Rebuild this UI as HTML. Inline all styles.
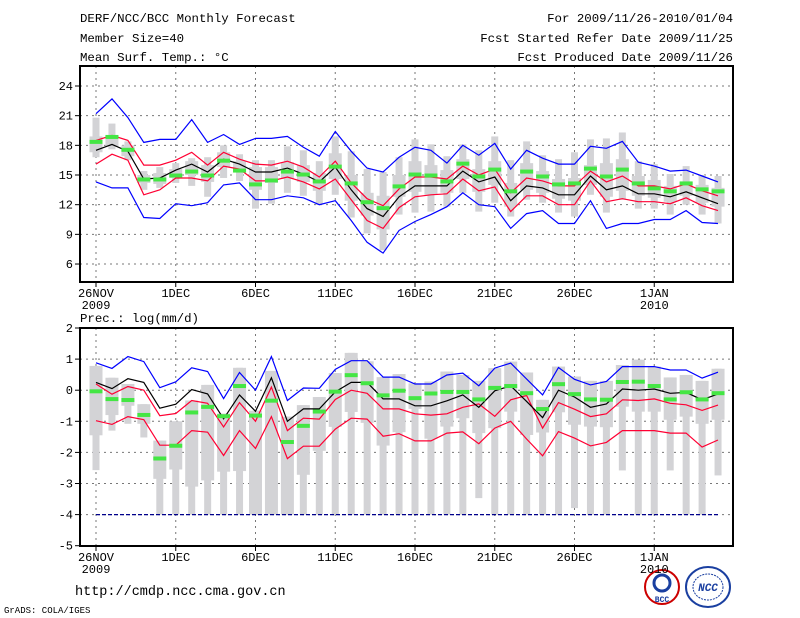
<!DOCTYPE html>
<html><head><meta charset="utf-8"><style>
html,body{margin:0;padding:0;background:#fff;}
svg{display:block;font-family:"Liberation Mono","DejaVu Sans Mono",monospace;}
</style></head><body>
<svg id="c" width="800" height="618" viewBox="0 0 800 618" xmlns="http://www.w3.org/2000/svg">
<g font-size="12.4" fill="#000">
<text x="80" y="22">DERF/NCC/BCC Monthly Forecast</text>
<text x="80" y="42">Member Size=40</text>
<text x="80" y="61">Mean Surf. Temp.: °C</text>
<text x="733" y="22" text-anchor="end">For 2009/11/26-2010/01/04</text>
<text x="733" y="42" text-anchor="end">Fcst Started Refer Date 2009/11/25</text>
<text x="733" y="61" text-anchor="end">Fcst Produced Date 2009/11/26</text>
<text x="80" y="322">Prec.: log(mm/d)</text>
<text x="75" y="595" font-size="13.5">http://cmdp.ncc.cma.gov.cn</text>
<text x="4" y="613" font-size="9">GrADS: COLA/IGES</text>
</g>
<g>
<circle cx="662" cy="587" r="17" fill="#fff" stroke="#c00" stroke-width="2"/>
<circle cx="662" cy="583" r="8" fill="none" stroke="#1a3fa0" stroke-width="3"/>
<text x="662" y="602" font-size="8" text-anchor="middle" fill="#1a3fa0" font-weight="bold">BCC</text>
</g>
<g>
<ellipse cx="708" cy="587" rx="22" ry="20" fill="#fff" stroke="#1a3fa0" stroke-width="2"/>
<ellipse cx="708" cy="587" rx="15" ry="13" fill="none" stroke="#1a3fa0" stroke-width="1" stroke-dasharray="2,1"/>
<text x="708" y="591" font-size="11" text-anchor="middle" fill="#1a3fa0" font-style="italic" font-weight="bold">NCC</text>
</g>
<g id="plots"></g>
</svg>
<script>
// ---- temperature panel data ----
const tMean=[17.5,18.1,17.4,14.6,14.7,15.5,16.1,15.3,16.6,16.1,15.3,15.3,15.7,15.1,14.3,15.8,13.5,11.6,10.8,12.8,13.9,13.9,13.9,15.4,14.3,14.8,12.4,13.9,13.7,13.0,13.0,14.9,13.5,13.9,13.1,13.1,12.8,13.3,12.7,12.1];
const tRedHi=[18.5,19.0,18.5,16.0,16.0,16.5,17.3,16.0,17.3,16.6,16.1,16.0,16.4,15.8,14.8,16.4,14.2,12.6,11.9,13.6,14.8,14.8,14.6,15.9,15.0,15.6,13.2,14.7,14.4,13.9,13.9,15.4,14.3,14.9,13.9,13.9,13.6,14.1,13.4,12.9];
const tRedLo=[16.1,17.1,16.5,13.0,13.5,14.7,14.7,14.4,15.9,15.6,14.4,14.4,14.8,14.3,13.6,14.6,12.5,10.4,9.6,11.7,12.8,13.0,13.1,14.6,13.4,13.8,11.3,12.9,12.9,12.0,12.0,14.4,12.3,12.6,12.3,12.3,12.1,12.7,11.9,11.4];
const tBlueHi=[21.2,22.7,20.8,18.3,18.6,18.6,20.6,18.3,19.1,18.1,18.7,18.7,18.9,17.8,16.9,19.4,17.4,15.7,15.3,16.8,17.8,17.5,16.2,18.0,17.0,18.2,15.6,17.5,16.7,16.1,16.1,17.9,17.7,18.4,16.3,15.9,15.4,15.5,14.9,14.3];
const tBlueLo=[14.3,13.7,13.7,10.7,10.6,12.1,11.9,12.2,14.0,14.2,12.5,12.5,12.9,12.7,12.0,12.4,10.4,8.2,7.1,9.4,10.3,11.0,11.8,13.2,12.0,11.8,9.6,11.1,11.4,10.1,10.1,12.4,9.6,10.1,10.1,10.5,10.5,11.4,10.2,10.1];
const tObs=[18.4,18.9,17.6,14.6,14.6,15.0,15.4,15.0,16.5,15.5,14.1,14.5,15.4,15.1,14.4,15.9,14.2,12.3,11.7,13.9,15.1,15.0,14.4,16.2,14.9,15.6,13.4,15.4,14.9,14.1,14.2,15.7,14.9,15.6,14.2,13.7,13.4,14.2,13.6,13.4];
const tMax=[20.8,20.2,18.4,15.4,15.8,16.2,16.7,16.8,18.0,17.1,16.5,16.5,17.9,17.5,16.4,18.9,17.4,15.6,15.3,16.8,18.6,18.1,16.9,18.1,17.5,18.9,16.5,18.4,17.0,16.6,17.3,18.6,18.7,19.3,16.4,16.1,15.1,15.9,15.0,14.9];
const tQ3=[18.9,19.0,18.0,15.0,15.2,15.6,16.4,16.0,17.3,16.4,15.8,15.8,16.3,16.0,15.2,17.2,15.0,13.2,12.9,15.0,16.4,16.0,15.5,16.6,15.6,16.4,14.2,16.2,15.4,14.6,14.7,16.0,16.2,16.6,14.9,14.5,13.9,14.3,14.0,13.7];
const tQ1=[17.3,17.9,16.9,14.2,14.1,14.7,15.0,14.3,15.8,15.3,13.5,14.2,14.6,14.3,13.4,14.6,12.4,10.9,9.5,12.8,13.3,13.0,13.2,14.6,13.3,14.0,11.8,13.5,13.2,12.6,12.4,14.0,12.8,13.4,12.9,12.7,12.3,12.9,12.2,11.8];
const tMin=[16.8,17.6,16.5,13.5,13.7,14.2,13.9,12.8,14.7,14.4,11.6,12.1,13.2,12.9,12.0,13.0,10.7,9.1,7.4,11.0,11.2,11.3,11.8,13.2,11.3,12.2,10.8,12.5,12.2,11.2,10.8,13.0,11.2,12.5,11.6,11.6,11.0,12.0,11.0,10.1];
const tTicks=[6,9,12,15,18,21,24];
// ---- precipitation panel data ----
const pMean=[0.25,0.05,0.37,0.25,-0.58,-0.45,0.02,-0.12,-0.92,-0.15,-0.68,0.4,-1.0,-0.6,-0.6,-0.05,0.25,0.25,-0.28,-0.28,-0.5,-0.5,-0.34,-0.15,-0.55,-0.02,0.14,-0.36,-0.88,0.0,-0.22,-0.55,-0.44,0.04,0.0,0.04,-0.1,-0.07,-0.31,-0.12];
const pRedHi=[0.2,-0.13,0.12,0.0,-0.82,-0.75,-0.33,-0.42,-1.18,-0.4,-1.0,0.1,-1.3,-0.9,-0.93,-0.3,0.0,-0.1,-0.6,-0.6,-0.76,-0.8,-0.76,-0.55,-0.44,-0.84,-0.31,-0.17,-1.22,-0.4,-0.61,-0.85,-0.76,-0.31,-0.33,-0.28,-0.42,-0.47,-0.65,-0.48];
const pRedLo=[-0.98,-1.1,-0.85,-0.95,-1.77,-1.77,-1.3,-1.35,-2.1,-1.3,-1.87,-0.85,-2.2,-1.8,-1.8,-1.25,-0.9,-0.93,-1.48,-1.4,-1.63,-1.63,-1.38,-1.34,-1.72,-1.22,-1.0,-1.57,-2.11,-1.33,-1.54,-1.79,-1.68,-1.3,-1.3,-1.3,-1.38,-1.38,-1.83,-1.6];
const pBlueHi=[0.88,0.7,1.08,0.92,0.08,0.27,0.72,0.6,-0.27,0.57,0.0,1.08,-0.33,0.07,0.06,0.67,0.95,0.95,0.42,0.42,0.2,0.2,0.49,0.55,0.14,0.71,0.87,0.36,-0.15,0.73,0.35,0.17,0.28,0.76,0.76,0.76,0.65,0.65,0.39,0.58];
const pBlueLo=[-4,-4,-4,-4,-4,-4,-4,-4,-4,-4,-4,-4,-4,-4,-4,-4,-4,-4,-4,-4,-4,-4,-4,-4,-4,-4,-4,-4,-4,-4,-4,-4,-4,-4,-4,-4,-4,-4,-4,-4];
const pObs=[-0.02,-0.27,-0.3,-0.78,-2.18,-1.77,-0.7,-0.52,-0.82,0.15,-0.8,-0.32,-1.65,-1.13,-0.67,-0.03,0.5,0.24,-0.15,0.0,-0.24,-0.09,-0.04,-0.04,-0.28,0.09,0.15,-0.08,-0.59,0.21,-0.11,-0.28,-0.29,0.28,0.29,0.15,-0.28,-0.05,-0.28,-0.08];
const pMax=[0.78,0.4,0.2,-0.45,-1.62,-1.0,-0.33,0.17,-0.75,0.72,-0.66,0.62,-0.85,-0.48,-0.22,0.55,1.2,0.93,0.42,0.52,0.22,0.28,0.6,0.49,0.3,0.71,0.92,0.57,-0.31,0.76,0.44,0.3,0.3,0.81,0.98,0.76,0.41,0.49,0.3,0.69];
const pQ1=[-1.45,-0.8,-0.5,-1.08,-2.85,-2.55,-3.1,-2.9,-2.62,-2.6,-4,-4,-4,-2.72,-1.95,-1.18,-0.7,-1.05,-1.78,-1.35,-0.6,-1.56,-1.17,-0.9,-1.38,-1.22,-0.69,-1.44,-1.36,-0.71,-1.11,-1.17,-1.19,-0.53,-0.69,-0.69,-0.95,-0.85,-1.08,-0.95];
const pMin=[-2.57,-1.3,-1.08,-1.52,-4,-4,-4,-4,-4,-4,-4,-4,-4,-4,-4,-4,-4,-4,-4,-4,-4,-4,-4,-4,-3.47,-4,-4,-4,-4,-4,-3.79,-4,-4,-2.58,-4,-4,-2.58,-4,-4,-2.74];
const pTicks=[-5,-4,-3,-2,-1,0,1,2];
// ---- shared x axis ----
const xTickDays=[0,5,10,15,20,25,30,35];
const xTickLabels=["26NOV","1DEC","6DEC","11DEC","16DEC","21DEC","26DEC","1JAN"];
const xYearLabels=["2009","","","","","","","2010"];

const NS="http://www.w3.org/2000/svg";
const root=document.getElementById('plots');
function mk(tag,attrs,parent){const e=document.createElementNS(NS,tag);for(const k in attrs)e.setAttribute(k,attrs[k]);(parent||root).appendChild(e);return e;}
const L=80,R=733;
function xs(d){return 96+d*15.95;}

function panel(cfg){
  const g=mk('g',{});
  
  
  const ys=v=>cfg.y0+(cfg.vTop-v)*cfg.k;
  cfg.grid.forEach(v=>{const l=mk('line',{x1:L,x2:R,y1:ys(v),y2:ys(v),stroke:'#777','stroke-dasharray':'2,4','stroke-width':1},g);
    });
  xTickDays.forEach(d=>{const l=mk('line',{x1:xs(d),x2:xs(d),y1:cfg.top,y2:cfg.bot,stroke:'#777','stroke-dasharray':'2,4','stroke-width':1},g);
    });
  for(let i=0;i<cfg.max.length;i++){
    const x=xs(i);
    const w=mk('rect',{x:x-3.5,y:ys(cfg.max[i]),width:7,height:Math.max(0,ys(cfg.min[i])-ys(cfg.max[i])),fill:'#d3d3d6'},g);
    
    const b=mk('rect',{x:x-6.5,y:ys(cfg.q3[i]),width:13,height:Math.max(0,ys(cfg.q1[i])-ys(cfg.q3[i])),fill:'#d3d3d6'},g);
    
  }
  const lines=[[cfg.blueLo,'#0000ff','blue-lower-line',cfg.blueDash],[cfg.blueHi,'#0000ff','blue-upper-line'],[cfg.redLo,'#ff0033','red-lower-line'],[cfg.redHi,'#ff0033','red-upper-line'],[cfg.mean,'#000','ensemble-mean-line']];
  lines.forEach(([arr,col,nm,dash])=>{
    const pts=arr.map((v,i)=>xs(i).toFixed(1)+','+ys(v).toFixed(1)).join(' ');
    const p=mk('polyline',{points:pts,fill:'none',stroke:dash?'#00008b':col,'stroke-width':1.2},g);
    if(dash)p.setAttribute('stroke-dasharray','4,2');
    
  });
  cfg.obs.forEach((v,i)=>{const r=mk('rect',{x:xs(i)-6.5,y:ys(v)-1.5,width:13,height:4,fill:'#44e644'},g);
    });
  const f=mk('rect',{x:L,y:cfg.top,width:R-L,height:cfg.bot-cfg.top,fill:'none',stroke:'#000','stroke-width':2},g);
  
  cfg.ticks.forEach(v=>{
    const t=mk('line',{x1:L-5,x2:L,y1:ys(v),y2:ys(v),stroke:'#000'},g);
    
    const tx=mk('text',{x:L-7,y:ys(v)+4,'text-anchor':'end','font-size':12},g);tx.textContent=String(v);
    
  });
  xTickDays.forEach((d,j)=>{
    const t=mk('line',{x1:xs(d),x2:xs(d),y1:cfg.bot,y2:cfg.bot+5,stroke:'#000'},g);
    
    const tx=mk('text',{x:xs(d),y:cfg.bot+15,'text-anchor':'middle','font-size':12},g);tx.textContent=xTickLabels[j];
    
    if(xYearLabels[j]){const ty=mk('text',{x:xs(d),y:cfg.bot+27,'text-anchor':'middle','font-size':12},g);ty.textContent=xYearLabels[j];
      }
  });
}
panel({name:'temperature-panel',top:66,bot:282,y0:86,vTop:24,k:9.89,grid:[6,9,12,15,18,21,24],ticks:tTicks,
  mean:tMean,redHi:tRedHi,redLo:tRedLo,blueHi:tBlueHi,blueLo:tBlueLo,obs:tObs,max:tMax,q3:tQ3,q1:tQ1,min:tMin});
panel({name:'precipitation-panel',top:328,bot:546,y0:328,vTop:2,k:31.1,grid:[-4,-3,-2,-1,0,1],ticks:pTicks,blueDash:true,
  mean:pMean,redHi:pRedHi,redLo:pRedLo,blueHi:pBlueHi,blueLo:pBlueLo,obs:pObs,max:pMax,q3:pMax,q1:pQ1,min:pMin});
</script>
</body></html>
